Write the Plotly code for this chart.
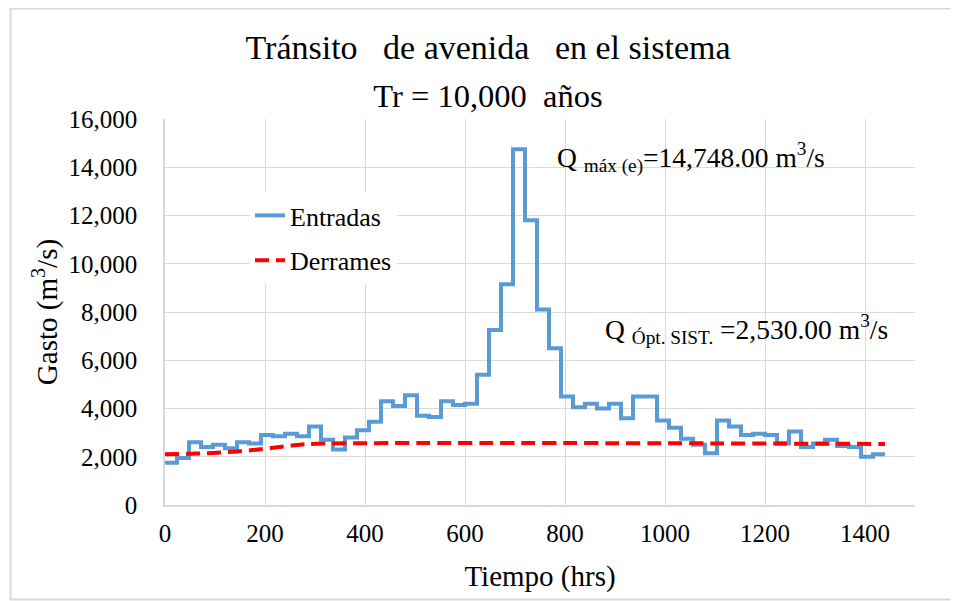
import plotly.graph_objects as go

# ---------------- data ----------------
step_hours = [0, 24, 48, 72, 96, 120, 144, 168, 192, 216, 240, 264, 288, 312, 336, 360,
              384, 408, 432, 456, 480, 504, 528, 552, 576, 600, 624, 648, 672, 696, 720,
              744, 768, 792, 816, 840, 864, 888, 912, 936, 960, 984, 1008, 1032, 1056,
              1080, 1104, 1128, 1152, 1176, 1200, 1224, 1248, 1272, 1296, 1320, 1344,
              1368, 1392, 1416, 1440]
entradas = [1750, 1950, 2600, 2400, 2500, 2350, 2600, 2550, 2900, 2850, 2950, 2850, 3250,
            2700, 2300, 2800, 3100, 3450, 4300, 4100, 4550, 3700, 3650, 4300, 4150, 4200,
            5400, 7250, 9150, 14748, 11800, 8100, 6500, 4500, 4050, 4200, 4000, 4200, 3600,
            4500, 4500, 3500, 3200, 2750, 2500, 2150, 3500, 3250, 2900, 2950, 2900, 2550,
            3050, 2400, 2550, 2700, 2450, 2400, 2000, 2100, 2100]
derrame_hours = [0, 24, 48, 72, 96, 120, 144, 168, 192, 216, 240, 264, 288, 1440]
derrames = [2100, 2110, 2120, 2140, 2160, 2190, 2220, 2260, 2310, 2370, 2430, 2490, 2530, 2530]

x_ticks = [0, 200, 400, 600, 800, 1000, 1200, 1400]
y_ticks = [0, 2000, 4000, 6000, 8000, 10000, 12000, 14000, 16000]

NB = "\u00a0"
title_line1 = f"Tránsito{NB}{NB} de avenida{NB}{NB} en el sistema"
title_line2 = f"Tr = 10,000{NB} años"
x_title = "Tiempo (hrs)"
y_title = "Gasto (m<sup>3</sup>/s)"
ann_max = "Q <sub>máx (e)</sub>=14,748.00 m<sup>3</sup>/s"
ann_opt = "Q <sub>Ópt. SIST.</sub> =2,530.00 m<sup>3</sup>/s"

FONT = "Times New Roman, Liberation Serif, serif"
OFF = 8                      # page body margin
W, H = 950, 593
L, R, T, B = 157, 43, 111, 96
PW, PH = W - L - R, H - T - B


def px_x(s):
    return (s - OFF - L) / PW


def px_y(s):
    return (H - B - (s - OFF)) / PH


fig = go.Figure()
fig.add_trace(go.Scatter(
    x=step_hours, y=entradas, name="Entradas", mode="lines", legendgroup="a",
    line=dict(color="#5B9BD5", width=4, shape="hv"),
))
fig.add_trace(go.Scatter(
    x=derrame_hours, y=derrames, name="Derrames", mode="lines", legendgroup="b",
    line=dict(color="#FF0000", width=4, dash="14px,7px", shape="spline"),
))

shapes = [
    dict(type="rect", xref="paper", yref="paper",
         x0=px_x(10.5), x1=px_x(975), y0=px_y(599.5), y1=px_y(8.5),
         line=dict(color="#D9D9D9", width=2), fillcolor="rgba(0,0,0,0)", layer="below"),
    dict(type="rect", xref="paper", yref="paper",
         x0=px_x(533), x1=px_x(868), y0=px_y(183), y1=px_y(125),
         line=dict(width=0), fillcolor="white", layer="between"),
    dict(type="rect", xref="paper", yref="paper",
         x0=px_x(583), x1=px_x(916), y0=px_y(357), y1=px_y(298),
         line=dict(width=0), fillcolor="white", layer="between"),
]

annotations = [
    dict(text=ann_max, xref="paper", yref="paper", x=px_x(555), y=px_y(157),
         xanchor="left", yanchor="middle", showarrow=False,
         font=dict(family=FONT, size=27.5, color="black")),
    dict(text=ann_opt, xref="paper", yref="paper", x=px_x(603), y=px_y(329),
         xanchor="left", yanchor="middle", showarrow=False,
         font=dict(family=FONT, size=27.5, color="black")),
]

title_text = (f"<span style='font-size:34px'>{title_line1}</span><br>"
              f"<span style='font-size:32.5px'>{title_line2}</span>")

fig.update_layout(
    width=W, height=H,
    margin=dict(l=L, r=R, t=T, b=B, autoexpand=False),
    paper_bgcolor="white", plot_bgcolor="white",
    font=dict(family=FONT, color="black"),
    title=dict(text=title_text, x=(488 - OFF) / W, xanchor="center", xref="container",
               y=1 - 51 / H, yanchor="top", yref="container",
               font=dict(family=FONT, size=37, color="black")),
    showlegend=True,
    legend=dict(x=px_x(250), y=px_y(192), xanchor="left", yanchor="top",
                bgcolor="white", borderwidth=0,
                font=dict(family=FONT, size=26, color="black"),
                traceorder="grouped", tracegroupgap=8),
    shapes=shapes,
    annotations=annotations,
    xaxis=dict(range=[0, 1500], tickvals=x_ticks, showgrid=True, gridcolor="#D9D9D9",
               gridwidth=1, showline=True, linecolor="#D9D9D9", linewidth=1.5,
               zeroline=False, ticks="", ticklabelstandoff=5,
               tickfont=dict(family=FONT, size=25, color="black"),
               title=dict(text=x_title, standoff=20,
                          font=dict(family=FONT, size=29, color="black"))),
    yaxis=dict(range=[0, 16000], tickvals=y_ticks, tickformat=",", showgrid=True,
               gridcolor="#D9D9D9", gridwidth=1, showline=True, linecolor="#D9D9D9",
               linewidth=1.5, zeroline=False, ticks="", ticklabelstandoff=21,
               tickfont=dict(family=FONT, size=25, color="black"),
               title=dict(text=y_title, standoff=2,
                          font=dict(family=FONT, size=29, color="black"))),
)

fig.write_html("out.html")
